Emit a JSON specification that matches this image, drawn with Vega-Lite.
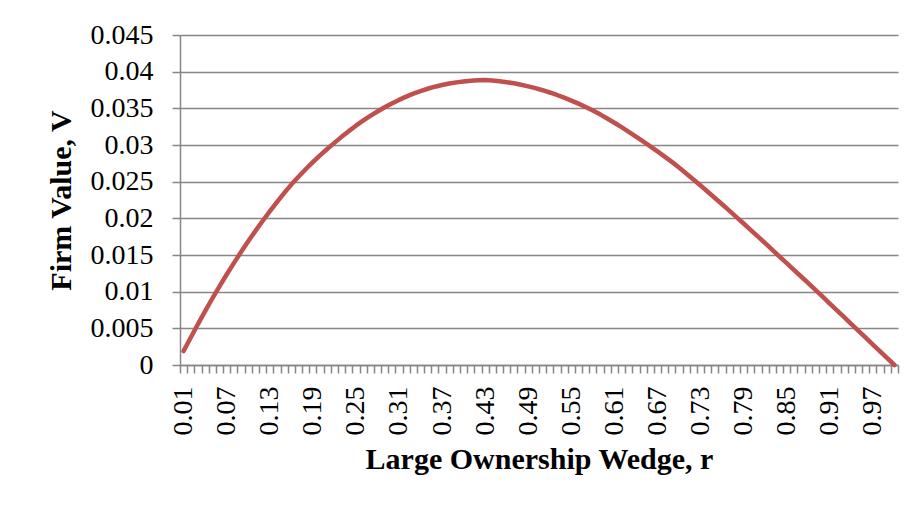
{
  "$schema": "https://vega.github.io/schema/vega-lite/v6.json",
  "width": 718,
  "height": 330,
  "autosize": "none",
  "padding": {"left": 180, "top": 35, "right": 19, "bottom": 146},
  "background": "white",
  "config": {
    "font": "Liberation Serif",
    "view": {"stroke": null},
    "axis": {
      "labelFont": "Liberation Serif",
      "titleFont": "Liberation Serif",
      "labelColor": "black",
      "titleColor": "black",
      "domainColor": "#868686",
      "tickColor": "#868686",
      "gridColor": "#868686",
      "domainWidth": 1.5,
      "tickWidth": 1.5,
      "gridWidth": 1.5
    }
  },
  "data": {
    "values": [
      {"r": 0.01, "V": 0.0019}, {"r": 0.02, "V": 0.00376}, {"r": 0.03, "V": 0.00557}, {"r": 0.04, "V": 0.00734}, {"r": 0.05, "V": 0.00907},
      {"r": 0.06, "V": 0.01073}, {"r": 0.07, "V": 0.01234}, {"r": 0.08, "V": 0.01389}, {"r": 0.09, "V": 0.0154}, {"r": 0.10, "V": 0.01686},
      {"r": 0.11, "V": 0.01828}, {"r": 0.12, "V": 0.01964}, {"r": 0.13, "V": 0.02095}, {"r": 0.14, "V": 0.02221}, {"r": 0.15, "V": 0.02343},
      {"r": 0.16, "V": 0.0246}, {"r": 0.17, "V": 0.02567}, {"r": 0.18, "V": 0.02669}, {"r": 0.19, "V": 0.02766}, {"r": 0.20, "V": 0.02859},
      {"r": 0.21, "V": 0.02946}, {"r": 0.22, "V": 0.03029}, {"r": 0.23, "V": 0.03111}, {"r": 0.24, "V": 0.03189}, {"r": 0.25, "V": 0.03263},
      {"r": 0.26, "V": 0.03332}, {"r": 0.27, "V": 0.03397}, {"r": 0.28, "V": 0.03457}, {"r": 0.29, "V": 0.03514}, {"r": 0.30, "V": 0.03566},
      {"r": 0.31, "V": 0.03615}, {"r": 0.32, "V": 0.03659}, {"r": 0.33, "V": 0.037}, {"r": 0.34, "V": 0.03736}, {"r": 0.35, "V": 0.03767},
      {"r": 0.36, "V": 0.03795}, {"r": 0.37, "V": 0.03818}, {"r": 0.38, "V": 0.03838}, {"r": 0.39, "V": 0.03854}, {"r": 0.40, "V": 0.03867},
      {"r": 0.41, "V": 0.03876}, {"r": 0.42, "V": 0.03882}, {"r": 0.43, "V": 0.03885}, {"r": 0.44, "V": 0.03879}, {"r": 0.45, "V": 0.0387},
      {"r": 0.46, "V": 0.03857}, {"r": 0.47, "V": 0.03842}, {"r": 0.48, "V": 0.03822}, {"r": 0.49, "V": 0.038}, {"r": 0.50, "V": 0.03775},
      {"r": 0.51, "V": 0.03747}, {"r": 0.52, "V": 0.03716}, {"r": 0.53, "V": 0.03682}, {"r": 0.54, "V": 0.03645}, {"r": 0.55, "V": 0.03606},
      {"r": 0.56, "V": 0.03564}, {"r": 0.57, "V": 0.03519}, {"r": 0.58, "V": 0.03471}, {"r": 0.59, "V": 0.03418}, {"r": 0.60, "V": 0.03362},
      {"r": 0.61, "V": 0.03303}, {"r": 0.62, "V": 0.03243}, {"r": 0.63, "V": 0.0318}, {"r": 0.64, "V": 0.03115}, {"r": 0.65, "V": 0.03049},
      {"r": 0.66, "V": 0.02982}, {"r": 0.67, "V": 0.02913}, {"r": 0.68, "V": 0.02842}, {"r": 0.69, "V": 0.0277}, {"r": 0.70, "V": 0.02692},
      {"r": 0.71, "V": 0.02612}, {"r": 0.72, "V": 0.0253}, {"r": 0.73, "V": 0.02447}, {"r": 0.74, "V": 0.02363}, {"r": 0.75, "V": 0.02278},
      {"r": 0.76, "V": 0.02192}, {"r": 0.77, "V": 0.02105}, {"r": 0.78, "V": 0.02016}, {"r": 0.79, "V": 0.01929}, {"r": 0.80, "V": 0.0184},
      {"r": 0.81, "V": 0.01751}, {"r": 0.82, "V": 0.01661}, {"r": 0.83, "V": 0.0157}, {"r": 0.84, "V": 0.01478}, {"r": 0.85, "V": 0.01389},
      {"r": 0.86, "V": 0.01298}, {"r": 0.87, "V": 0.01207}, {"r": 0.88, "V": 0.01115}, {"r": 0.89, "V": 0.01023}, {"r": 0.90, "V": 0.00931},
      {"r": 0.91, "V": 0.00838}, {"r": 0.92, "V": 0.00745}, {"r": 0.93, "V": 0.00652}, {"r": 0.94, "V": 0.00559}, {"r": 0.95, "V": 0.00466},
      {"r": 0.96, "V": 0.00372}, {"r": 0.97, "V": 0.00279}, {"r": 0.98, "V": 0.00186}, {"r": 0.99, "V": 0.00093}, {"r": 1.00, "V": 0.0}
    ]
  },
  "mark": {"type": "line", "color": "#C0504D", "strokeWidth": 4.5, "strokeCap": "round", "strokeJoin": "round"},
  "encoding": {
    "x": {
      "field": "r",
      "type": "ordinal",
      "sort": null,
      "scale": {"type": "band", "paddingInner": 0, "paddingOuter": 0},
      "axis": {
        "title": "Large Ownership Wedge, r",
        "titleFontSize": 30,
        "titleFontWeight": "bold",
        "titlePadding": 9,
        "labelFontSize": 28,
        "labelAngle": -90,
        "labelAlign": "right",
        "labelBaseline": "middle",
        "labelPadding": 13,
        "labelOverlap": false,
        "labelExpr": "round(datum.value*100) % 6 == 1 ? datum.label : ''",
        "tickBand": "extent",
        "tickSize": 8,
        "grid": false
      }
    },
    "y": {
      "field": "V",
      "type": "quantitative",
      "scale": {"domain": [0, 0.045], "nice": false, "zero": true},
      "axis": {
        "title": "Firm Value, V",
        "titleFontSize": 30,
        "titleFontWeight": "bold",
        "titlePadding": 14,
        "labelFontSize": 28,
        "labelPadding": 19,
        "values": [0, 0.005, 0.01, 0.015, 0.02, 0.025, 0.03, 0.035, 0.04, 0.045],
        "format": "~g",
        "tickSize": 8,
        "grid": true
      }
    }
  }
}
